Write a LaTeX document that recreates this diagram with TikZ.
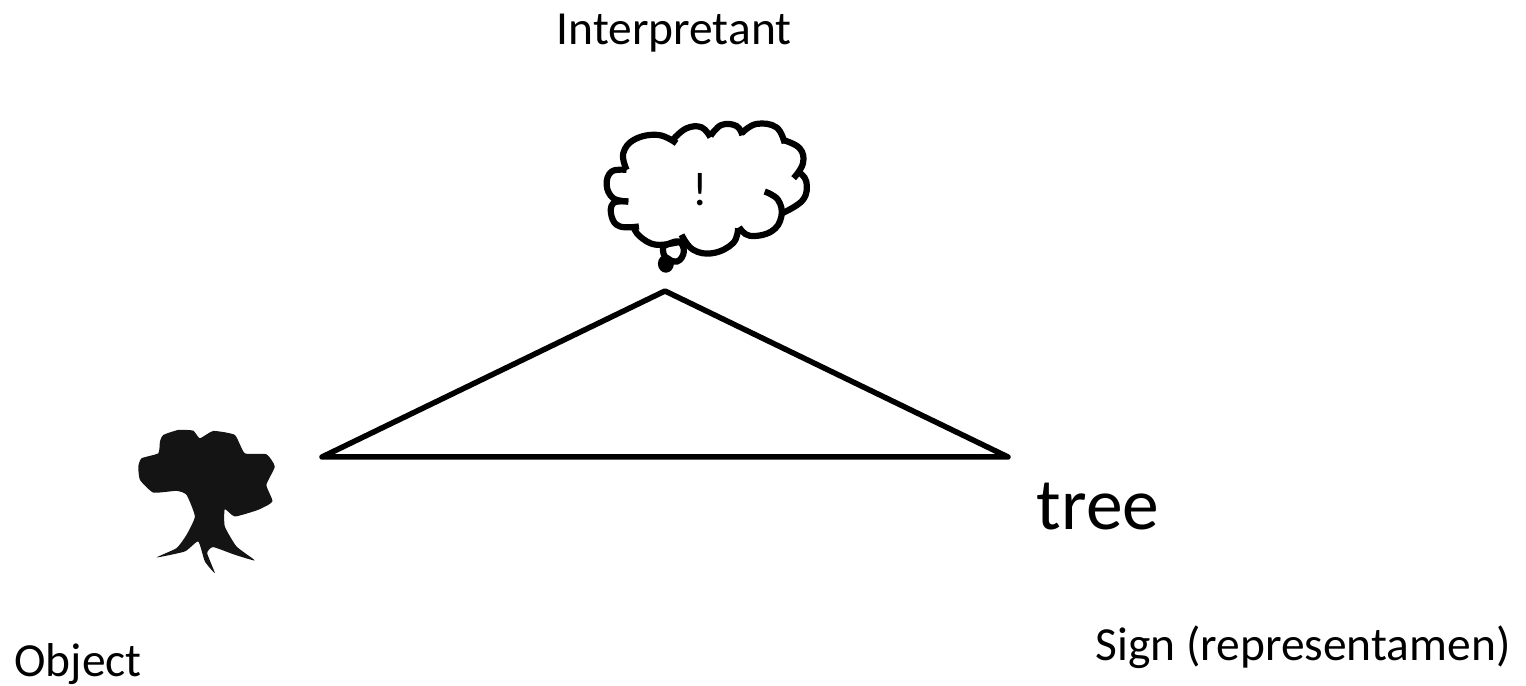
\documentclass[tikz,border=0pt]{standalone}
\usepackage{fontspec}
\setmainfont{Carlito}
\usetikzlibrary{positioning}
\definecolor{TreeBlack}{HTML}{141414}
\tikzset{
  smallword/.style={inner sep=0pt, anchor=base, text=black, font=\fontsize{13.5pt}{16pt}\selectfont},
  bigword/.style={inner sep=0pt, anchor=base, text=black, font=\fontsize{20.9pt}{25pt}\selectfont},
  triline/.style={draw=black, line width=0.055cm, line join=round, line cap=round},
  cloudline/.style={draw=black, line width=0.062cm, line cap=butt, tension=0.7}
}
\newcommand{\cloudarc}[1]{\draw[cloudline] plot[smooth] coordinates {#1};}
\begin{document}
\begin{tikzpicture}[x=0.01cm, y=-0.01cm]
\useasboundingbox (0,0) rectangle (1526,686);
% triangle
\coordinate (apex) at (665,291);
\coordinate (obj) at (322,457);
\coordinate (sign) at (1008,457);
\draw[triline] (apex) -- (obj) -- (sign) -- cycle;
% cloud, read off the crop
\begin{scope}[shift={(590,110)}, x=0.003333cm, y=-0.003333cm]
\cloudarc{(110,180) (100,130) (135,88) (205,75) (260,100)}
\cloudarc{(250,88) (290,55) (335,52) (362,82)}
\cloudarc{(362,78) (395,45) (440,48) (458,76)}
\cloudarc{(455,70) (500,42) (560,52) (585,100)}
\cloudarc{(580,90) (630,115) (640,160) (612,205)}
\cloudarc{(625,185) (650,215) (640,270) (578,310)}
\cloudarc{(525,245) (565,270) (575,320) (545,365) (480,378) (448,352)}
\cloudarc{(445,355) (430,400) (370,430) (310,420) (275,375)}
\cloudarc{(275,395) (200,405) (150,380) (130,350)}
\cloudarc{(147,350) (90,350) (65,320) (70,280) (115,275)}
\cloudarc{(115,275) (70,265) (50,225) (65,185) (110,180)}
\cloudarc{(220,410) (265,395) (282,425) (262,455) (225,440) (220,410)}
\fill[black] (228,462) ellipse [x radius=24, y radius=27];
\end{scope}
\node (bang) at (700,206) [smallword] {!};
% tree, read off the crop
\begin{scope}[shift={(120,420)}, x=0.003333cm, y=-0.003333cm]
\fill[TreeBlack] plot[smooth cycle, tension=0.3] coordinates {
  (130,45) (175,30) (220,32) (240,55) (280,33) (345,45) (375,100) (440,103)
  (465,140) (440,195) (458,245) (415,270) (345,290) (315,268) (315,320)
  (350,380) (405,422) (345,405) (280,382) (262,400) (285,460) (255,425)
  (235,365) (195,395) (110,413) (170,385) (200,345) (225,290) (200,225)
  (170,213) (100,218) (60,180) (55,140) (65,115) (115,100) (120,65)};
\end{scope}
% labels
\node (interp) at (674,45) [smallword] {Interpretant};
\node (word) at (1098,530) [bigword] {tree};
\node (objlabel) at (78,677) [smallword] {Object};
\node (signlabel) at (1303,661) [smallword] {Sign (representamen)};
\end{tikzpicture}
\end{document}
